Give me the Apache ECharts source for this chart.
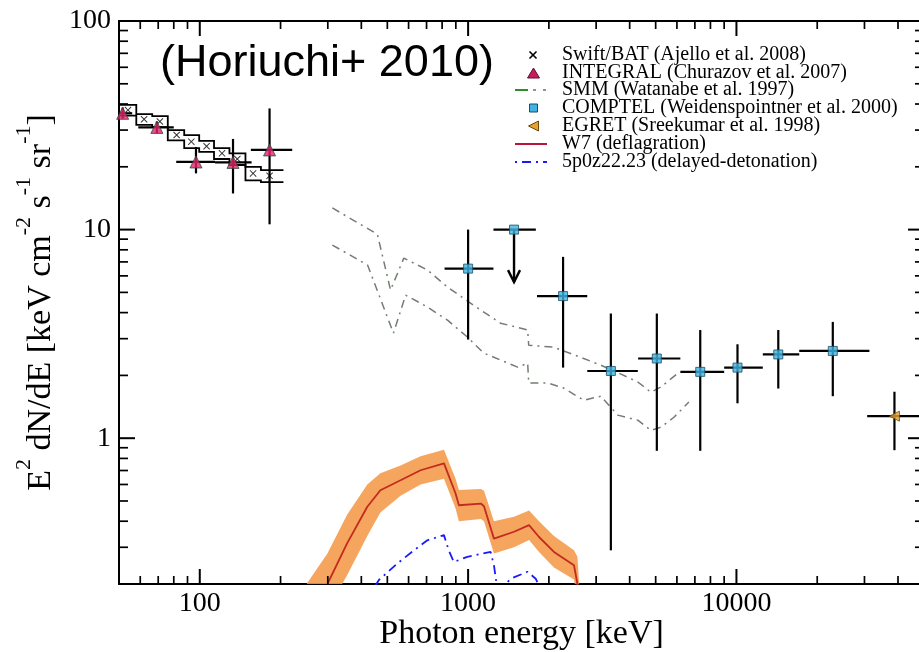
<!DOCTYPE html>
<html>
<head>
<meta charset="utf-8">
<script src="https://cdn.jsdelivr.net/npm/echarts@6/dist/echarts.min.js"></script>
<style>
  html, body { margin: 0; padding: 0; background: #fff; }
  #chart { width: 919px; height: 652px; }
</style>
</head>
<body>
<div id="chart"></div>
<script>
// ---- Cosmic X/gamma-ray background spectrum (E^2 dN/dE) ----

// Swift/BAT: bin centres, bin edges, values and error bounds
const swiftE   = [54, 62, 71, 82, 93, 106, 121, 138, 158, 182];
const swiftELo = [50, 58, 66.5, 76, 87.5, 99.5, 113, 129, 148, 169];
const swiftEHi = [58, 66.5, 76, 87.5, 99.5, 113, 129, 148, 169, 205];
const swiftY   = [37.4, 33.8, 33.0, 28.4, 26.4, 25.1, 23.2, 21.8, 18.6, 18.1];
const swiftYLo = [35.2, 31.8, 31.0, 26.8, 24.6, 23.6, 21.8, 20.4, 17.2, 16.9];
const swiftYHi = [39.6, 35.8, 35.0, 30.0, 28.4, 26.6, 24.6, 23.2, 20.0, 19.3];

// INTEGRAL
const integralE   = [51.6, 69.2, 96.8, 133, 182];
const integralELo = [50, 59, 81.7, 114, 155];
const integralEHi = [56, 80, 114, 156, 221];
const integralY   = [36.1, 30.9, 21.1, 21.0, 24.1];
const integralYLo = [34.0, 29.0, 18.6, 14.9, 10.6];
const integralYHi = [38.5, 33.0, 24.9, 27.2, 38.1];

// COMPTEL
const comptelE   = [1000, 2259, 3404, 5050, 7330, 10090, 14320, 22860];
const comptelELo = [817, 1806, 2780, 4300, 6180, 9000, 12540, 17140];
const comptelEHi = [1243, 2780, 4290, 6180, 9000, 12540, 17140, 31300];
const comptelY   = [6.5, 4.8, 2.1, 2.41, 2.08, 2.18, 2.52, 2.62];
const comptelYLo = [2.97, 2.18, 0.29, 0.87, 0.87, 1.47, 1.73, 1.59];
const comptelYHi = [10.0, 7.4, 3.96, 3.96, 3.3, 2.82, 3.3, 3.61];

// COMPTEL upper limit: [E, E low, E high, limit, arrow tip]
const comptelLimit = [1483, 1243, 1788, 10.0, 5.6];

// EGRET
const egretE   = [38800];
const egretELo = [30700];
const egretEHi = [50000];
const egretY   = [1.275];
const egretYLo = [0.876];
const egretYHi = [1.67];

// SMM: upper and lower bounds
const smmUpperE = [312, 459, 514, 576, 706, 838, 1047, 1321, 1667, 1682, 2085, 2630, 3120, 3645, 4290, 4800, 5230, 6050];
const smmUpperY = [12.7, 9.5, 5.13, 7.3, 6.4, 5.3, 4.34, 3.56, 3.30, 2.79, 2.73, 2.44, 2.24, 2.05, 1.86, 1.66, 1.76, 2.05];
const smmLowerE = [312, 422, 527, 585, 706, 838, 995, 1142, 1530, 1667, 1682, 1982, 2271, 2697, 3120, 3613, 4290, 4800, 5230, 5850, 6650];
const smmLowerY = [8.43, 6.76, 3.19, 4.85, 4.25, 3.68, 3.05, 2.56, 2.19, 2.29, 1.84, 1.84, 1.74, 1.52, 1.59, 1.29, 1.22, 1.09, 1.13, 1.26, 1.49];

// W7 deflagration model: central curve and uncertainty band
const w7E = [299, 354, 421, 471, 560, 665, 813, 898, 924, 1115, 1146, 1248, 1483, 1687, 1838, 2089, 2481, 2555, 2570];
const w7Y = [0.20, 0.313, 0.469, 0.563, 0.629, 0.702, 0.757, 0.543, 0.477, 0.486, 0.472, 0.330, 0.356, 0.383, 0.336, 0.285, 0.246, 0.20, 0.18];
const w7BandE  = [250, 299, 354, 421, 471, 560, 665, 813, 898, 924, 1115, 1146, 1248, 1483, 1687, 1838, 2089, 2481, 2555, 2600];
const w7BandHi = [0.20, 0.28, 0.43, 0.60, 0.68, 0.74, 0.82, 0.88, 0.64, 0.565, 0.57, 0.56, 0.40, 0.42, 0.45, 0.40, 0.34, 0.29, 0.27, 0.19];
const w7BandLo = [0.14, 0.15, 0.22, 0.34, 0.44, 0.53, 0.60, 0.64, 0.46, 0.40, 0.41, 0.40, 0.28, 0.30, 0.325, 0.285, 0.24, 0.21, 0.17, 0.15];

// 5p0z22.23 delayed-detonation model
const ddtE = [450, 465, 545, 628, 705, 813, 847, 885, 993, 1213, 1248, 1277, 1330, 1442, 1665, 1786, 1824, 1850];
const ddtY = [0.195, 0.209, 0.251, 0.290, 0.324, 0.343, 0.290, 0.255, 0.270, 0.285, 0.246, 0.20, 0.19, 0.212, 0.229, 0.212, 0.20, 0.19];

// Axis ticks
const xMajorTicks = [100, 1000, 10000];
const xMinorTicks = [60, 70, 80, 90, 200, 300, 400, 500, 600, 700, 800, 900,
                     2000, 3000, 4000, 5000, 6000, 7000, 8000, 9000, 20000, 30000, 40000];
const yMajorTicks = [1, 10];
const yMinorTicks = [0.3, 0.4, 0.5, 0.6, 0.7, 0.8, 0.9, 2, 3, 4, 5, 6, 7, 8, 9,
                     20, 30, 40, 50, 60, 70, 80, 90];

const legendNames = [
  'Swift/BAT (Ajello et al. 2008)',
  'INTEGRAL (Churazov et al. 2007)',
  'SMM (Watanabe et al. 1997)',
  'COMPTEL (Weidenspointner et al. 2000)',
  'EGRET (Sreekumar et al. 1998)',
  'W7 (deflagration)',
  '5p0z22.23 (delayed-detonation)'
];

// ---- helpers ----
function rows(e, y, eLo, eHi, yLo, yHi) {
  return e.map((v, i) => [v, y[i], eLo[i], eHi[i], yLo[i], yHi[i]]);
}
function points(e, y) { return e.map((v, i) => [v, y[i]]); }

const SERIF = 'Liberation Serif';

function errorBarItem(params, api) {
  const l = api.coord([api.value(2), api.value(1)]);
  const r = api.coord([api.value(3), api.value(1)]);
  const b = api.coord([api.value(0), api.value(4)]);
  const t = api.coord([api.value(0), api.value(5)]);
  const st = { stroke: '#000', lineWidth: 2.2 };
  return { type: 'group', children: [
    { type: 'line', shape: { x1: l[0], y1: l[1], x2: r[0], y2: r[1] }, style: st },
    { type: 'line', shape: { x1: t[0], y1: t[1], x2: b[0], y2: b[1] }, style: st }
  ]};
}

// Swift/BAT error envelope drawn as two staircases (upper and lower bounds)
function swiftStepItem(params, api) {
  const upper = [], lower = [];
  swiftE.forEach((e, i) => {
    upper.push(api.coord([swiftELo[i], swiftYHi[i]]), api.coord([swiftEHi[i], swiftYHi[i]]));
    lower.push(api.coord([swiftELo[i], swiftYLo[i]]), api.coord([swiftEHi[i], swiftYLo[i]]));
  });
  const st = { stroke: '#000', lineWidth: 1.8, fill: 'none' };
  return { type: 'group', children: [
    { type: 'polyline', shape: { points: upper }, style: st },
    { type: 'polyline', shape: { points: lower }, style: st }
  ]};
}

function limitItem(params, api) {
  const c = api.coord([api.value(0), api.value(3)]);
  const l = api.coord([api.value(1), api.value(3)]);
  const r = api.coord([api.value(2), api.value(3)]);
  const tip = api.coord([api.value(0), api.value(4)]);
  const st = { stroke: '#000', lineWidth: 2.4 };
  return { type: 'group', children: [
    { type: 'line', shape: { x1: l[0], y1: l[1], x2: r[0], y2: r[1] }, style: st },
    { type: 'line', shape: { x1: c[0], y1: c[1], x2: tip[0], y2: tip[1] }, style: st },
    { type: 'polyline', shape: { points: [[tip[0] - 6, tip[1] - 12], [tip[0], tip[1]], [tip[0] + 6, tip[1] - 12]] }, style: { stroke: '#000', lineWidth: 2.4, fill: 'none' } }
  ]};
}

function bandItem(params, api) {
  const upper = w7BandE.map((e, i) => api.coord([e, w7BandHi[i]]));
  const lower = w7BandE.map((e, i) => api.coord([e, w7BandLo[i]])).reverse();
  return { type: 'polygon', shape: { points: upper.concat(lower) },
    style: { fill: 'rgba(244,152,72,0.88)' } };
}

function xTickItem(params, api) {
  const cs = params.coordSys;
  const px = api.coord([api.value(0), 1])[0];
  const major = api.value(2) === 1;
  const len = major ? 15 : 8;
  const st = { stroke: '#000', lineWidth: major ? 2 : 1.7 };
  const bottom = cs.y + cs.height, top = cs.y;
  return { type: 'group', children: [
    { type: 'line', shape: { x1: px, y1: bottom, x2: px, y2: bottom - len }, style: st },
    { type: 'line', shape: { x1: px, y1: top, x2: px, y2: top + len }, style: st }
  ]};
}

function yTickItem(params, api) {
  const cs = params.coordSys;
  const py = api.coord([100, api.value(1)])[1];
  const major = api.value(2) === 1;
  const len = major ? 16 : 9;
  const st = { stroke: '#000', lineWidth: major ? 2 : 1.7 };
  const left = cs.x, right = cs.x + cs.width;
  return { type: 'group', children: [
    { type: 'line', shape: { x1: left, y1: py, x2: left + len, y2: py }, style: st },
    { type: 'line', shape: { x1: right, y1: py, x2: right - len, y2: py }, style: st }
  ]};
}

function decadeLabel(v) {
  const lg = Math.log10(v);
  return Math.abs(lg - Math.round(lg)) < 1e-6 ? String(Math.round(v)) : '';
}

// ---- legend (drawn as graphic elements) ----
const rowY = [55, 73, 90, 108, 126, 144, 162];
const legendGraphic = [];
legendNames.forEach((name, i) => {
  legendGraphic.push({ type: 'text', x: 562, y: rowY[i],
    style: { text: name, fontFamily: SERIF, fontSize: 20, fill: '#000', verticalAlign: 'middle', align: 'left' } });
});
legendGraphic.push(
  { type: 'line', shape: { x1: 529.5, y1: rowY[0] - 3.5, x2: 536.5, y2: rowY[0] + 3.5 }, style: { stroke: '#000', lineWidth: 1.6 } },
  { type: 'line', shape: { x1: 529.5, y1: rowY[0] + 3.5, x2: 536.5, y2: rowY[0] - 3.5 }, style: { stroke: '#000', lineWidth: 1.6 } },
  { type: 'polygon', shape: { points: [[527.5, rowY[1] + 5], [539.5, rowY[1] + 5], [533.5, rowY[1] - 5]] }, style: { fill: '#c81d5c', stroke: '#5e1030', lineWidth: 1 } },
  { type: 'line', shape: { x1: 515, y1: rowY[2], x2: 528, y2: rowY[2] }, style: { stroke: '#2e8b2e', lineWidth: 2 } },
  { type: 'line', shape: { x1: 533, y1: rowY[2], x2: 536, y2: rowY[2] }, style: { stroke: '#8a948a', lineWidth: 2 } },
  { type: 'line', shape: { x1: 543, y1: rowY[2], x2: 546, y2: rowY[2] }, style: { stroke: '#8a948a', lineWidth: 2 } },
  { type: 'rect', shape: { x: 529.5, y: rowY[3] - 4, width: 8, height: 8 }, style: { fill: '#3fb4e2', stroke: '#1d4d68', lineWidth: 1 } },
  { type: 'polygon', shape: { points: [[528.5, rowY[4]], [538.5, rowY[4] - 5], [538.5, rowY[4] + 5]] }, style: { fill: '#e6a12a', stroke: '#6b4810', lineWidth: 1 } },
  { type: 'line', shape: { x1: 515, y1: rowY[5], x2: 547, y2: rowY[5] }, style: { stroke: '#b8143a', lineWidth: 2 } },
  { type: 'line', shape: { x1: 515, y1: rowY[6], x2: 547, y2: rowY[6] }, style: { stroke: '#1a1aff', lineWidth: 2, lineDash: [2, 5, 9, 5] } },
  { type: 'text', x: 160, y: 64,
    style: { text: '(Horiuchi+ 2010)', fontFamily: 'Liberation Sans', fontSize: 45, fill: '#000', verticalAlign: 'middle', align: 'left' } }
);

const chart = echarts.init(document.getElementById('chart'));

chart.setOption({
  animation: false,
  backgroundColor: '#fff',
  grid: {
    left: 119, top: 21, width: 805, height: 563,
    show: true, borderColor: '#000', borderWidth: 2, backgroundColor: 'transparent',
    containLabel: false, outerBoundsMode: 'none'
  },
  xAxis: {
    type: 'log', logBase: 10, min: 50, max: 50000, splitNumber: 3,
    axisLine: { lineStyle: { color: '#000', width: 2 } },
    axisTick: { show: false },
    splitLine: { show: false },
    axisLabel: { formatter: decadeLabel, fontFamily: SERIF, fontSize: 28, lineHeight: 28, color: '#000', margin: 6 },
    name: 'Photon energy [keV]',
    nameLocation: 'middle', nameGap: 33, nameMoveOverlap: false,
    nameTextStyle: { fontFamily: SERIF, fontSize: 34, lineHeight: 34, color: '#000' }
  },
  yAxis: {
    type: 'log', logBase: 10, min: 0.2, max: 100, splitNumber: 3,
    axisLine: { lineStyle: { color: '#000', width: 2 } },
    axisTick: { show: false },
    splitLine: { show: false },
    axisLabel: { formatter: decadeLabel, fontFamily: SERIF, fontSize: 28, lineHeight: 28, color: '#000', margin: 8 },
    name: '{m|E}{s|2}{m| dN/dE [keV cm}{s|-2}{m| s}{s|-1}{m| sr}{s|-1}{m|]}',
    nameLocation: 'middle', nameRotate: 90, nameGap: 50, nameMoveOverlap: false,
    nameTextStyle: {
      rich: {
        m: { fontFamily: SERIF, fontSize: 34, lineHeight: 56, color: '#000' },
        s: { fontFamily: SERIF, fontSize: 22, lineHeight: 22, verticalAlign: 'top', color: '#000' }
      }
    }
  },
  graphic: legendGraphic,
  series: [
    { name: 'W7 band', type: 'custom', renderItem: bandItem, clip: true, silent: true, z: 1,
      data: [[w7BandE[0], w7BandHi[0]]] },
    { name: 'W7 (deflagration)', type: 'line', data: points(w7E, w7Y), symbol: 'none', silent: true, z: 2,
      lineStyle: { color: '#c42a1f', width: 1.8 } },
    { name: '5p0z22.23 (delayed-detonation)', type: 'line', data: points(ddtE, ddtY), symbol: 'none', silent: true, z: 2,
      lineStyle: { color: '#1a1aff', width: 1.8, type: [9, 5, 2, 5] } },
    { name: 'SMM upper', type: 'line', data: points(smmUpperE, smmUpperY), symbol: 'none', silent: true, z: 2,
      lineStyle: { color: '#737d73', width: 1.5, type: [8, 5, 2, 5] } },
    { name: 'SMM lower', type: 'line', data: points(smmLowerE, smmLowerY), symbol: 'none', silent: true, z: 2,
      lineStyle: { color: '#737d73', width: 1.5, type: [8, 5, 2, 5] } },
    { name: 'Swift/BAT envelope', type: 'custom', renderItem: swiftStepItem, clip: true, silent: true, z: 3,
      data: [[swiftE[0], swiftY[0]]] },
    { name: 'INTEGRAL errors', type: 'custom', renderItem: errorBarItem, clip: true, silent: true, z: 3,
      data: rows(integralE, integralY, integralELo, integralEHi, integralYLo, integralYHi) },
    { name: 'COMPTEL errors', type: 'custom', renderItem: errorBarItem, clip: true, silent: true, z: 3,
      data: rows(comptelE, comptelY, comptelELo, comptelEHi, comptelYLo, comptelYHi) },
    { name: 'COMPTEL limit', type: 'custom', renderItem: limitItem, clip: true, silent: true, z: 3,
      data: [comptelLimit] },
    { name: 'EGRET errors', type: 'custom', renderItem: errorBarItem, clip: true, silent: true, z: 3,
      data: rows(egretE, egretY, egretELo, egretEHi, egretYLo, egretYHi) },
    { name: 'Swift/BAT', type: 'scatter', data: points(swiftE, swiftY), silent: true, z: 4,
      symbol: 'path://M1,0L5,4L9,0L10,1L6,5L10,9L9,10L5,6L1,10L0,9L4,5L0,1Z', symbolSize: 7,
      itemStyle: { color: '#000' } },
    { name: 'INTEGRAL', type: 'scatter', data: points(integralE, integralY), silent: true, z: 4,
      symbol: 'triangle', symbolSize: 12,
      itemStyle: { color: '#e6236b', borderColor: '#2c4a3a', borderWidth: 1 } },
    { name: 'COMPTEL', type: 'scatter', data: points(comptelE, comptelY).concat([[comptelLimit[0], comptelLimit[3]]]), silent: true, z: 4,
      symbol: 'rect', symbolSize: 9,
      itemStyle: { color: '#3fb4e2', borderColor: '#1d4d68', borderWidth: 1 } },
    { name: 'EGRET', type: 'scatter', data: points(egretE, egretY), silent: true, z: 4,
      symbol: 'triangle', symbolRotate: 90, symbolSize: 10,
      itemStyle: { color: '#e6a12a', borderColor: '#6b4810', borderWidth: 1 } },
    { name: 'x ticks', type: 'custom', renderItem: xTickItem, silent: true, z: 6,
      data: xMajorTicks.map(v => [v, 1, 1]).concat(xMinorTicks.map(v => [v, 1, 0])) },
    { name: 'y ticks', type: 'custom', renderItem: yTickItem, silent: true, z: 6,
      data: yMajorTicks.map(v => [100, v, 1]).concat(yMinorTicks.map(v => [100, v, 0])) }
  ]
});
</script>
</body>
</html>
